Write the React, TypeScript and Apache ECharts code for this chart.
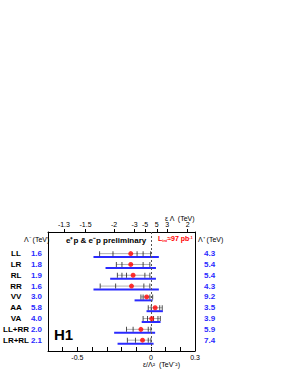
import React, { useEffect, useRef } from "react";
import * as echarts from "echarts";

const models = ["LL", "LR", "RL", "RR", "VV", "AA", "VA", "LL+RR", "LR+RL"];
const lambdaMinus = [1.6, 1.8, 1.9, 1.6, 3.0, 5.8, 4.0, 2.0, 2.1];
const lambdaPlus = [4.3, 5.4, 5.4, 4.3, 9.2, 3.5, 3.9, 5.9, 7.4];
const bestFit = [-0.137, -0.137, -0.121, -0.132, -0.029, 0.029, 0.005, -0.068, -0.057];
const scanTicks = [
  [-0.349, -0.258, -0.094, -0.053, -0.002],
  [-0.235, -0.197, -0.053, -0.007],
  [-0.228, -0.197, -0.166, -0.041, -0.007],
  [-0.345, -0.24, -0.048, -0.007],
  [-0.068, -0.053, -0.007, 0.012],
  [-0.018, 0.002, 0.06, 0.077],
  [-0.053, -0.023, 0.018, 0.048, 0.064],
  [-0.166, -0.121, -0.018, 0.0],
  [-0.16, -0.105, -0.018, 0.0],
];
const topTickLabels = [-1.3, -1.5, -2, -3, -5, 5, 3, 2];
const bottomTickLabels = [-0.5, 0, 0.3];

const FONT = "Liberation Sans, Arial, Helvetica, sans-serif";
const BLUE = "#2a2aff";
const BLUE_OFFSET = 0.32;

export default function App() {
  const ref = useRef<HTMLDivElement>(null);
  useEffect(() => {
    if (!ref.current) return;
    const chart = echarts.init(ref.current, null, { renderer: "svg" });
    const topPos = topTickLabels.map((l) => Math.sign(l) / (l * l));
    const limitData = models.map((_, i) => [
      -1 / (lambdaMinus[i] * lambdaMinus[i]),
      1 / (lambdaPlus[i] * lambdaPlus[i]),
      i,
    ]);
    const scanRange = models.map((_, i) => [
      Math.min(...scanTicks[i]),
      Math.max(...scanTicks[i]),
      i,
    ]);
    const tickPts: number[][] = [];
    scanTicks.forEach((arr, i) => arr.forEach((v) => tickPts.push([v, i])));
    const dots = bestFit.map((v, i) => [v, i]);

    const segRender = (color: string, width: number, off: number) => (params: any, api: any) => {
      const y = api.value(2) + off;
      const p1 = api.coord([api.value(0), y]);
      const p2 = api.coord([api.value(1), y]);
      return {
        type: "line",
        shape: { x1: p1[0], y1: p1[1], x2: p2[0], y2: p2[1] },
        style: { stroke: color, lineWidth: width },
      };
    };

    chart.setOption({
      animation: false,
      backgroundColor: "#fff",
      textStyle: { fontFamily: FONT },
      grid: { left: 48, right: 91, top: 232, bottom: 20, show: false },
      xAxis: [
        {
          type: "value",
          position: "bottom",
          min: -0.7,
          max: 0.3,
          interval: 0.1,
          axisLine: { show: true, onZero: false, lineStyle: { color: "#000", width: 1 } },
          axisTick: { show: true, inside: true, length: 4, lineStyle: { color: "#000" } },
          axisLabel: {
            customValues: bottomTickLabels,
            formatter: (v: number) => (Math.abs(v) < 1e-9 ? "0" : String(Math.round(v * 10) / 10)),
            fontSize: 7,
            color: "#000",
            margin: 3,
            fontFamily: FONT,
          },
          splitLine: { show: false },
        },
        {
          type: "value",
          position: "top",
          min: -0.7,
          max: 0.3,
          axisLine: { show: true, onZero: false, lineStyle: { color: "#000", width: 1 } },
          axisTick: { show: true, customValues: topPos, inside: false, length: 3, lineStyle: { color: "#000" } },
          axisLabel: {
            customValues: topPos,
            formatter: (v: number) => {
              let best = 0;
              let d = Infinity;
              topPos.forEach((p, k) => {
                if (Math.abs(p - v) < d) {
                  d = Math.abs(p - v);
                  best = k;
                }
              });
              return String(topTickLabels[best]);
            },
            fontSize: 7,
            color: "#000",
            margin: 4,
            fontFamily: FONT,
          },
          splitLine: { show: false },
        },
      ],
      yAxis: [
        {
          type: "value",
          inverse: true,
          min: -2,
          max: 9,
          interval: 1,
          position: "left",
          axisLine: { show: true, onZero: false, lineStyle: { color: "#000" } },
          axisTick: { show: false },
          splitLine: { show: false },
          axisLabel: {
            margin: 6,
            formatter: (v: number) => {
              const i = Math.round(v);
              if (i < 0 || i >= models.length) return "";
              return `{n|${models[i]}}{v|${lambdaMinus[i].toFixed(1)}}`;
            },
            rich: {
              n: { width: 24, align: "center", fontWeight: "bold", fontSize: 8, color: "#000", fontFamily: FONT },
              v: { width: 14, align: "right", fontWeight: "bold", fontSize: 8, color: BLUE, fontFamily: FONT },
            },
          },
        },
        {
          type: "value",
          inverse: true,
          min: -2,
          max: 9,
          interval: 1,
          position: "right",
          axisLine: { show: true, onZero: false, lineStyle: { color: "#000" } },
          axisTick: { show: false },
          splitLine: { show: false },
          axisLabel: {
            margin: 9,
            formatter: (v: number) => {
              const i = Math.round(v);
              if (i < 0 || i >= models.length) return "";
              return lambdaPlus[i].toFixed(1);
            },
            fontWeight: "bold",
            fontSize: 8,
            color: BLUE,
            fontFamily: FONT,
          },
        },
      ],
      series: [
        {
          type: "custom",
          xAxisIndex: 0,
          yAxisIndex: 0,
          renderItem: segRender("#b0b0b0", 1, 0),
          data: scanRange,
          silent: true,
          markLine: {
            silent: true,
            symbol: "none",
            label: { show: false },
            lineStyle: { color: "#555", type: [2, 2], width: 1 },
            data: [{ xAxis: 0 }],
          },
        },
        {
          type: "custom",
          xAxisIndex: 0,
          yAxisIndex: 0,
          renderItem: segRender(BLUE, 2, BLUE_OFFSET),
          data: limitData,
          silent: true,
        },
        {
          type: "scatter",
          xAxisIndex: 0,
          yAxisIndex: 0,
          symbol: "rect",
          symbolSize: [1, 5],
          itemStyle: { color: "#222" },
          data: tickPts,
          silent: true,
        },
        {
          type: "scatter",
          xAxisIndex: 0,
          yAxisIndex: 0,
          symbol: "circle",
          symbolSize: 5,
          itemStyle: { color: "#ff0000" },
          data: dots,
          silent: true,
          z: 5,
        },
      ],
      graphic: [
        {
          type: "text",
          left: 24,
          top: 236,
          style: { text: "Λ⁻ (TeV)", fontSize: 7, fill: "#000", fontFamily: FONT },
        },
        {
          type: "text",
          left: 198,
          top: 236,
          style: { text: "Λ⁺ (TeV)", fontSize: 7, fill: "#000", fontFamily: FONT },
        },
        {
          type: "text",
          left: 66,
          top: 236,
          style: { text: "e⁺p & e⁻p preliminary", fontSize: 8, fontWeight: "bold", fill: "#000", fontFamily: FONT },
        },
        {
          type: "text",
          left: 158,
          top: 235,
          style: {
            text: "{a|L}{s|int}{a|≈97 pb}{p|-1}",
            rich: {
              a: { fontSize: 7, fontWeight: "bold", fill: "#ff0000", fontFamily: FONT },
              s: { fontSize: 4, fontWeight: "bold", fill: "#ff0000", verticalAlign: "bottom", fontFamily: FONT },
              p: { fontSize: 4, fontWeight: "bold", fill: "#ff0000", verticalAlign: "top", fontFamily: FONT },
            },
          },
        },
        {
          type: "text",
          left: 54,
          top: 327,
          style: { text: "H1", fontSize: 15, fontWeight: "bold", fill: "#000", fontFamily: FONT },
        },
        {
          type: "text",
          left: 165,
          top: 215,
          style: { text: "ε Λ  (TeV)", fontSize: 7, fill: "#000", fontFamily: FONT },
        },
        {
          type: "text",
          left: 143,
          top: 361,
          style: { text: "ε/Λ²  (TeV⁻²)", fontSize: 7, fill: "#000", fontFamily: FONT },
        },
      ],
    });
    return () => chart.dispose();
  }, []);
  return <div ref={ref} style={{ width: 286, height: 371, position: "absolute", left: 0, top: 0 }} />;
}
